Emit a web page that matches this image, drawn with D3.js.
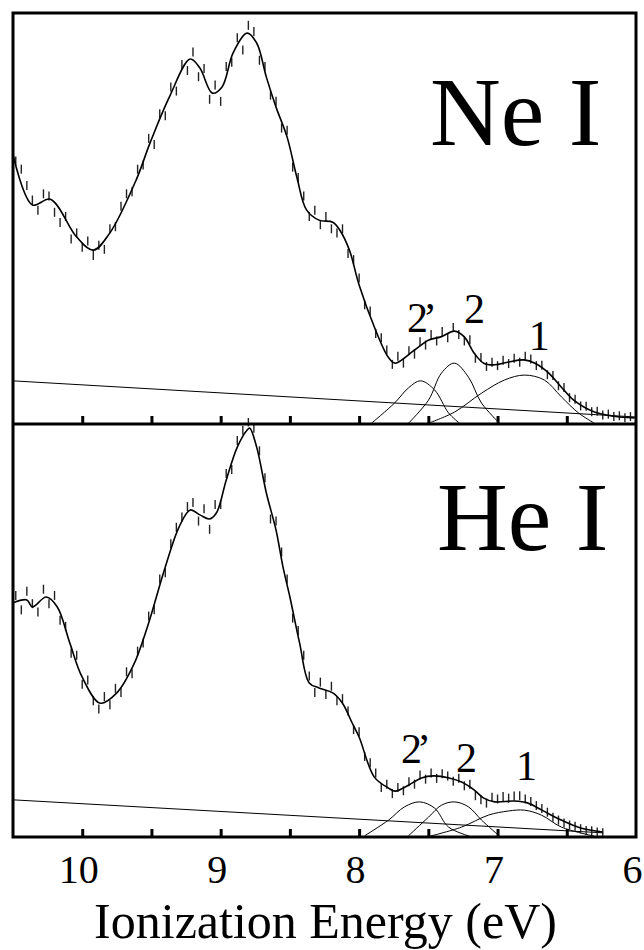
<!DOCTYPE html>
<html>
<head>
<meta charset="utf-8">
<script src="https://cdn.jsdelivr.net/npm/d3@7"></script>
<style>
  body { margin: 0; background: #fff; }
  svg { display: block; }
  text { font-family: "Liberation Serif", "Times New Roman", serif; fill: #000; }
</style>
</head>
<body>
<div id="chart"></div>
<script>
// photoelectron spectra, Ne I (top) and He I (bottom); x = ionization energy (eV), y = intensity (arb.)
var tickMajor = [10, 9, 8, 7, 6];
var tickAll = [10, 9.5, 9, 8.5, 8, 7.5, 7, 6.5];

// ---- Ne I ----
var neFit = [[10.50,65.5],[10.36,53.3],[10.23,54.7],[10.04,45.5],[9.92,42.3],[9.80,46.5],[9.61,59.4],[9.51,68.4],
  [9.37,79.6],[9.22,88.8],[9.15,86.6],[9.06,80.5],[8.99,82.0],[8.91,90.3],[8.81,95.1],[8.74,92.7],[8.67,84.4],
  [8.60,77.1],[8.52,69.8],[8.45,60.1],[8.38,52.1],[8.29,49.6],[8.19,49.1],[8.14,47.2],[8.07,42.3],[8.00,33.8],
  [7.89,23.6],[7.79,16.3],[7.74,14.8],[7.60,18.0],[7.50,20.4],[7.41,21.2],[7.31,22.6],[7.24,21.2],[7.17,17.3],
  [7.10,14.8],[7.02,14.4],[6.92,15.1],[6.81,15.6],[6.73,14.8],[6.63,12.4],[6.54,9.0],[6.45,5.8],[6.30,2.9],
  [6.16,1.9],[6.01,1.5]];
var neData = [[10.48,64.0],[10.44,62.0],[10.40,58.0],[10.36,54.5],[10.32,52.0],[10.28,56.0],[10.24,55.5],[10.20,51.5],
  [10.16,49.0],[10.12,50.5],[10.08,45.0],[10.04,46.5],[10.00,43.0],[9.96,44.5],[9.92,41.0],[9.88,43.5],[9.84,42.5],
  [9.80,47.5],[9.76,48.0],[9.72,53.0],[9.68,56.0],[9.64,56.5],[9.60,62.0],[9.56,63.0],[9.52,69.5],[9.48,68.0],
  [9.44,75.5],[9.40,75.0],[9.36,82.0],[9.32,81.0],[9.28,87.5],[9.24,86.0],[9.20,90.5],[9.16,84.5],[9.12,86.5],
  [9.08,79.0],[9.04,82.5],[9.00,78.5],[8.96,87.0],[8.92,88.0],[8.88,94.0],[8.84,91.0],[8.80,97.0],[8.76,95.5],
  [8.72,88.5],[8.68,87.0],[8.64,80.0],[8.60,78.5],[8.56,72.0],[8.52,71.5],[8.48,62.5],[8.44,60.0],[8.40,55.5],
  [8.36,50.5],[8.32,52.0],[8.28,48.5],[8.24,50.5],[8.20,47.5],[8.16,46.5],[8.12,47.5],[8.08,41.5],[8.04,40.0],
  [8.00,35.5],[7.96,29.0],[7.92,27.5],[7.88,22.0],[7.84,21.0],[7.80,18.0],[7.76,14.5],[7.72,16.5],[7.68,14.8],
  [7.64,17.8],[7.60,17.0],[7.56,20.0],[7.52,19.2],[7.48,21.8],[7.44,20.2],[7.40,22.5],[7.36,21.0],[7.32,23.5],
  [7.28,21.8],[7.24,20.2],[7.20,20.5],[7.16,16.0],[7.12,16.2],[7.08,14.0],[7.04,15.0],[7.00,14.2],[6.96,15.5],
  [6.92,14.7],[6.88,16.0],[6.84,15.0],[6.80,16.5],[6.76,15.8],[6.72,14.2],[6.68,14.3],[6.64,12.0],[6.60,11.8],
  [6.56,9.3],[6.52,8.9],[6.48,6.4],[6.44,6.0],[6.40,4.4],[6.36,4.3],[6.32,3.0],[6.28,3.1],[6.24,2.2],[6.20,2.4],
  [6.16,1.8],[6.12,2.0],[6.08,1.5],[6.04,1.8]];
var neBackground = [[10.5,10.5],[6.0,1.7]];
var neBand2p = [[7.91,0.2],[7.744,5.1],[7.643,8.8],[7.556,10.5],[7.455,8.3],[7.354,2.7],[7.275,0.2]];
var neBand2 = [[7.643,0.2],[7.499,5.8],[7.405,12.4],[7.311,14.8],[7.21,11.4],[7.116,5.1],[6.986,0.2]];
var neBand1 = [[7.499,0.2],[7.311,2.9],[7.116,7.5],[6.95,10.7],[6.806,11.9],[6.662,10.7],[6.539,6.6],[6.416,2.7],[6.301,0.2]];
var neLabels = [["2’",7.563,22.4],["2",7.167,24.6],["1",6.698,18.0]];

// ---- He I ----
var heFit = [[10.50,56.7],[10.40,57.4],[10.36,55.7],[10.26,58.1],[10.18,55.7],[10.09,47.0],[10.00,38.7],[9.87,32.4],
  [9.75,34.9],[9.63,41.6],[9.53,50.8],[9.40,65.4],[9.30,75.1],[9.22,79.2],[9.15,78.0],[9.08,77.0],[9.03,78.5],
  [8.96,86.4],[8.88,94.4],[8.81,98.5],[8.79,99.0],[8.74,94.4],[8.67,83.3],[8.60,74.3],[8.55,65.4],[8.50,58.1],
  [8.43,47.0],[8.36,37.3],[8.29,36.1],[8.19,34.9],[8.12,32.4],[8.05,27.6],[8.00,24.2],[7.89,14.5],[7.79,11.9],
  [7.74,11.1],[7.64,12.6],[7.55,14.3],[7.46,14.8],[7.35,14.3],[7.26,13.3],[7.17,11.4],[7.10,9.4],[7.02,8.5],
  [6.88,8.7],[6.78,8.2],[6.68,6.5],[6.54,4.1],[6.40,2.2],[6.24,1.2]];
var heData = [[10.48,58.5],[10.44,55.0],[10.40,59.5],[10.36,56.5],[10.32,54.5],[10.28,60.0],[10.24,56.5],[10.20,58.5],
  [10.16,52.5],[10.12,51.0],[10.08,44.5],[10.04,44.0],[10.00,37.0],[9.96,38.0],[9.92,33.0],[9.88,31.0],[9.84,34.0],
  [9.80,32.0],[9.76,36.0],[9.72,35.0],[9.68,40.0],[9.64,39.5],[9.60,45.0],[9.56,47.0],[9.52,53.5],[9.48,55.0],
  [9.44,62.5],[9.40,64.0],[9.36,71.0],[9.32,75.0],[9.28,77.5],[9.24,80.0],[9.20,81.0],[9.16,76.5],[9.12,79.5],
  [9.08,74.5],[9.04,80.5],[9.00,80.5],[8.96,88.0],[8.92,89.0],[8.88,96.0],[8.84,98.5],[8.80,100.5],[8.76,99.0],
  [8.72,93.5],[8.68,87.0],[8.64,77.0],[8.60,76.5],[8.56,69.0],[8.52,62.5],[8.48,53.0],[8.44,50.0],[8.40,44.0],
  [8.36,39.0],[8.32,35.0],[8.28,37.5],[8.24,34.5],[8.20,36.5],[8.16,33.0],[8.12,33.5],[8.08,30.5],[8.04,26.0],
  [8.00,25.5],[7.96,19.5],[7.92,18.0],[7.88,15.5],[7.84,12.0],[7.80,12.8],[7.76,10.5],[7.72,12.0],[7.68,11.2],
  [7.64,13.4],[7.60,12.8],[7.56,15.0],[7.52,14.0],[7.48,15.5],[7.44,14.2],[7.40,15.3],[7.36,14.8],[7.32,13.5],
  [7.28,14.2],[7.24,12.4],[7.20,12.8],[7.16,10.0],[7.12,9.0],[7.08,8.2],[7.04,9.6],[7.00,9.2],[6.96,9.8],
  [6.92,9.4],[6.88,9.9],[6.84,10.0],[6.80,9.2],[6.76,8.6],[6.72,7.6],[6.68,6.9],[6.64,6.0],[6.60,4.8],
  [6.56,4.1],[6.52,3.4],[6.48,2.9],[6.44,2.6],[6.40,2.0],[6.36,1.6],[6.32,1.5],[6.28,1.2],[6.24,1.0]];
var heBackground = [[10.5,9.0],[6.236,1.0]];
var heBand2p = [[7.96,0.3],[7.787,4.1],[7.672,7.3],[7.563,8.5],[7.455,7.0],[7.354,2.4],[7.203,0.2]];
var heBand2 = [[7.643,0.3],[7.499,4.8],[7.405,7.7],[7.311,8.5],[7.21,7.3],[7.116,4.1],[6.986,0.2]];
var heBand1 = [[7.499,0.1],[7.26,2.4],[7.066,5.3],[6.921,6.3],[6.806,6.5],[6.683,5.3],[6.539,2.4],[6.301,0.2]];
var heLabels = [["2’",7.607,17.9],["2",7.224,15.7],["1",6.791,13.8]];

(function() {
	'use strict';

	var W = 644, H = 950;
	var xL = 13, xR = 636, yT = 13, yM = 424, yB = 837; // рамка и разделитель панелей

	var svg = d3.select('#chart').append('svg').attr('width', W).attr('height', H);

	var x = d3.scaleLinear().domain([10.5, 6.0]).range([xL, xR]);

	function drawPanel(id, y0, y1, fit, data, bg, bands, labels, title, titlePos)
	{
		var y = d3.scaleLinear().domain([0, 100]).range([y1, y0]);

		svg.append('clipPath').attr('id', 'clip' + id)
			.append('rect').attr('x', xL).attr('y', y0 - 6).attr('width', xR - xL).attr('height', y1 - y0 + 6);

		var g = svg.append('g').attr('clip-path', 'url(#clip' + id + ')');
		var line = d3.line().x(function(d){ return x(d[0]); }).y(function(d){ return y(d[1]); });
		var smooth = d3.line().x(function(d){ return x(d[0]); }).y(function(d){ return y(d[1]); })
			.curve(d3.curveCatmullRom.alpha(0.5));

		g.append('path').attr('d', line(bg)).attr('fill', 'none').attr('stroke', '#000').attr('stroke-width', 1);
		bands.forEach(function(b){
			g.append('path').attr('d', smooth(b)).attr('fill', 'none').attr('stroke', '#000').attr('stroke-width', 1);
		});

		// измеренные точки - короткие вертикальные штрихи
		g.selectAll('line.pt').data(data).enter().append('line')
			.attr('class', 'pt')
			.attr('x1', function(d){ return x(d[0]); })
			.attr('x2', function(d){ return x(d[0]); })
			.attr('y1', function(d){ return y(d[1]) - 4.5; })
			.attr('y2', function(d){ return y(d[1]) + 4.5; })
			.attr('stroke', '#222').attr('stroke-width', 1.4);

		g.append('path').attr('d', smooth(fit)).attr('fill', 'none').attr('stroke', '#000').attr('stroke-width', 1.6);

		labels.forEach(function(l){
			svg.append('text')
				.attr('x', x(l[1])).attr('y', y(l[2]))
				.attr('text-anchor', 'middle')
				.style('font-size', '42px')
				.style('letter-spacing', l[0].length > 1 ? '-5px' : '0px')
				.text(l[0]);
		});

		svg.append('text')
			.attr('x', x(titlePos[0])).attr('y', y(titlePos[1]))
			.attr('text-anchor', 'end')
			.style('font-size', '98px')
			.text(title);

		// штрихи шкалы внутрь панели
		var ax = svg.append('g').attr('transform', 'translate(0,' + y1 + ')')
			.call(d3.axisBottom(x).tickValues(tickAll).tickSize(-8).tickFormat(''));
		ax.select('.domain').remove();
		ax.selectAll('.tick line').attr('stroke', '#000').attr('stroke-width', 3);
		return y;
	}

	drawPanel('ne', yT, yM, neFit, neData, neBackground, [neBand2p, neBand2, neBand1], neLabels, 'Ne I', [6.25, 67.9]);
	drawPanel('he', yM, yB, heFit, heData, heBackground, [heBand2p, heBand2, heBand1], heLabels, 'He I', [6.20, 69.5]);

	svg.append('rect').attr('x', xL).attr('y', yT).attr('width', xR - xL).attr('height', yB - yT)
		.attr('fill', 'none').attr('stroke', '#000').attr('stroke-width', 3);
	svg.append('line').attr('x1', xL).attr('x2', xR).attr('y1', yM).attr('y2', yM)
		.attr('stroke', '#000').attr('stroke-width', 3);

	var lab = svg.append('g').attr('transform', 'translate(0,' + yB + ')')
		.call(d3.axisBottom(x).tickValues(tickMajor).tickSize(0).tickPadding(18).tickFormat(d3.format('d')));
	lab.select('.domain').remove();
	lab.selectAll('.tick text').attr('dx', -4).style('font-size', '40px')
		.style('font-family', '"Liberation Serif", "Times New Roman", serif').attr('fill', '#000');

	svg.append('text')
		.attr('x', (xL + xR) / 2 + 1).attr('y', 938)
		.attr('text-anchor', 'middle')
		.style('font-size', '50px')
		.text('Ionization Energy (eV)');
}());
</script>
</body>
</html>
